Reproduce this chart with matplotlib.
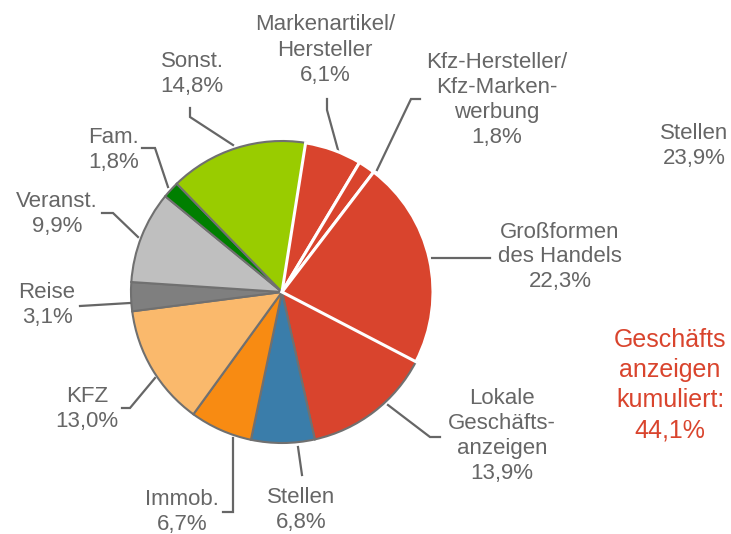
import matplotlib
matplotlib.use("Agg")
import matplotlib.pyplot as plt

# Anteile der Anzeigenrubriken (im Uhrzeigersinn ab oben)
labels = ["Markenartikel/\nHersteller", "Kfz-Hersteller/\nKfz-Marken-\nwerbung",
          "Großformen\ndes Handels", "Lokale\nGeschäfts-\nanzeigen", "Stellen",
          "Immob.", "KFZ", "Reise", "Veranst.", "Fam.", "Sonst."]
shares = [6.1, 1.8, 22.3, 13.9, 6.8, 6.7, 13.0, 3.1, 9.9, 1.8, 14.8]
colors = ["#D9442D", "#D9442D", "#D9442D", "#D9442D", "#3A7DAA", "#F88B12",
          "#FAB96C", "#7F7F7F", "#BFBFBF", "#007F00", "#99CC00"]
stellen_total = 23.9
business_total = 44.1

W, H = 731, 534
GRAY = "#666666"
EDGE = "#707070"

def fmt(v):
    return f"{v:.1f}%".replace(".", ",")

# label centres and leader polylines in pixel coords (y downwards)
label_pos = [(325, 50), (497, 100), (560, 257), (502, 436), (301, 510),
             (182, 512), (87, 409), (47, 305), (57, 214), (114, 150), (192, 74)]
leaders = [
    [(327, 99), (327, 110), (338, 150)],
    [(420, 99), (411, 99), (377, 170)],
    [(432, 258), (490, 258)],
    [(388, 405), (430, 437), (440, 437)],
    [(298, 447), (302, 475)],
    [(233, 438), (233, 512), (223, 512)],
    [(155, 378), (130, 408), (122, 408)],
    [(130, 303), (80, 306)],
    [(138, 237), (113, 213), (102, 213)],
    [(168, 187), (155, 148), (142, 148)],
    [(233, 145), (190, 117), (190, 108)],
]

plt.rcParams["font.family"] = ["Liberation Sans", "DejaVu Sans"]
fig = plt.figure(figsize=(W / 100, H / 100), dpi=100)
ax = fig.add_axes([0, 0, 1, 1])

wedges, _ = ax.pie(shares, colors=colors, startangle=81.0, counterclock=False,
                   center=(282, H - 292), radius=151, frame=True,
                   wedgeprops=dict(edgecolor=EDGE, linewidth=1.5))
# the first three red slices are separated by white gaps
for w in wedges[:3]:
    w.set_edgecolor("white")
    w.set_linewidth(2.2)
    w.set_zorder(3)

for lab, v, (x, y), pts in zip(labels, shares, label_pos, leaders):
    ax.text(x, H - y, f"{lab}\n{fmt(v)}", ha="center", va="center",
            fontsize=16, color=GRAY, linespacing=1.25)
    ax.plot([p[0] for p in pts], [H - p[1] for p in pts], color=GRAY, lw=1.6,
            solid_joinstyle="miter")

ax.text(694, H - 146, f"Stellen\n{fmt(stellen_total)}", ha="center", va="center",
        fontsize=16, color=GRAY, linespacing=1.25)
ax.text(670, H - 385, f"Geschäfts\nanzeigen\nkumuliert:\n{fmt(business_total)}",
        ha="center", va="center", fontsize=18, color="#D9442D", linespacing=1.32)

ax.set_xlim(0, W)
ax.set_ylim(0, H)
ax.set_aspect("equal")
ax.axis("off")

fig.savefig("out.png", dpi=100)
